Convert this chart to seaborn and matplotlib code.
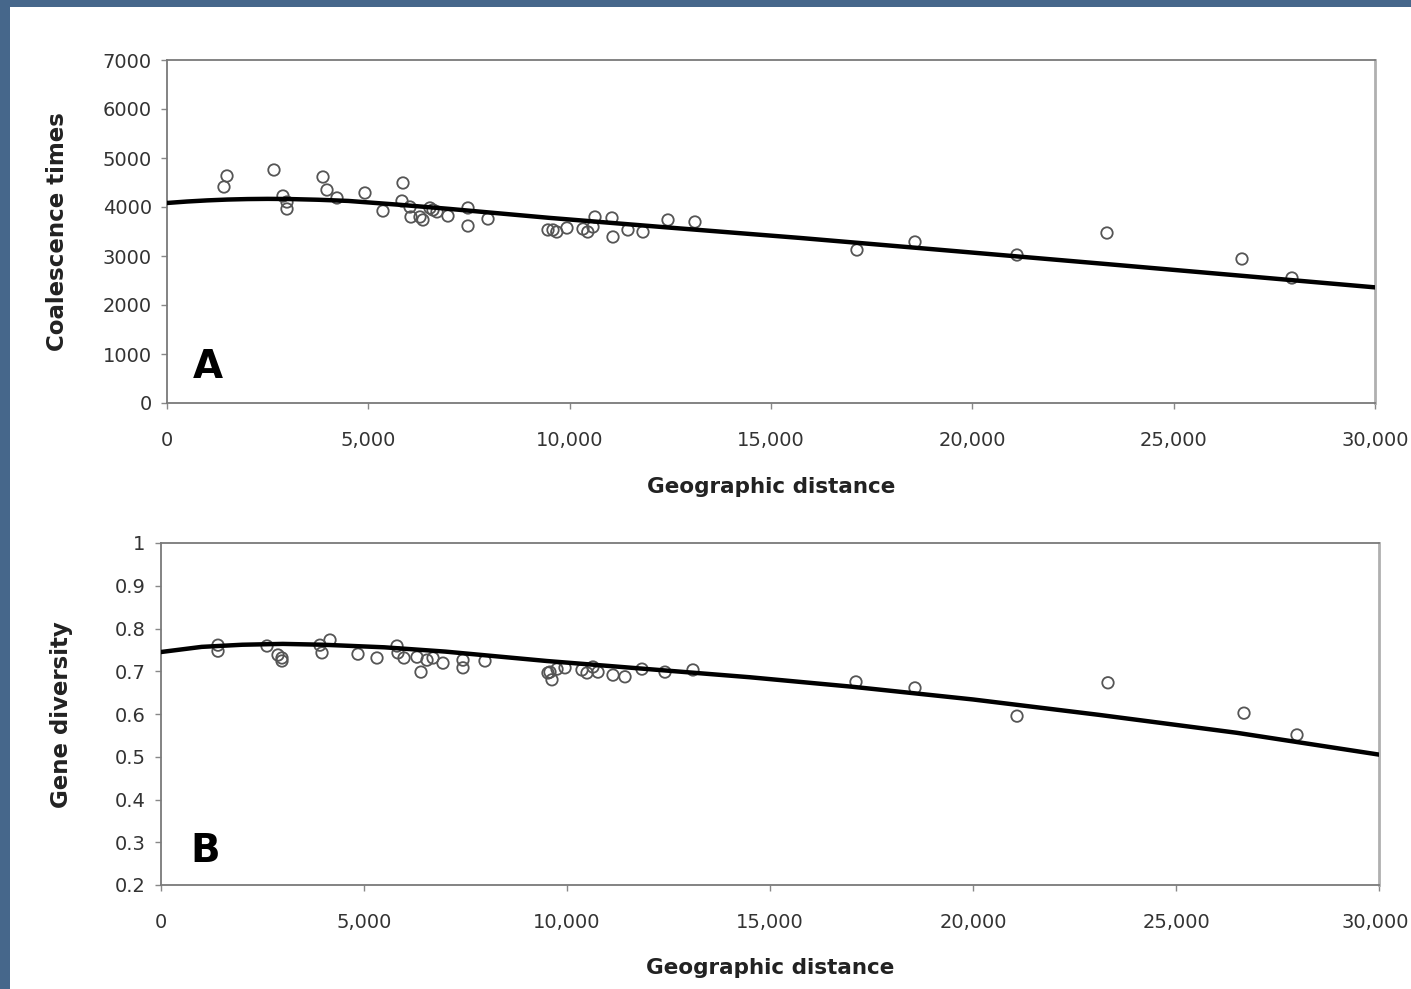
import matplotlib
matplotlib.use("Agg")
import matplotlib.pyplot as plt
from matplotlib.patches import Rectangle
from matplotlib.ticker import FuncFormatter
from matplotlib.transforms import ScaledTranslation
import seaborn as sns
import pandas as pd

# ---------------- data ----------------
# Panel A: coalescence times vs geographic distance
dist_a = [1490, 1415, 2657, 2880, 2980, 2980, 3874, 3973, 4222, 4917, 5364, 5861,
          5836, 6035, 6060, 6283, 6357, 6531, 6606, 6705, 6978, 7475, 7475, 7972,
          9462, 9586, 9680, 9933, 10331, 10450, 10579, 10629, 11051, 11076, 11448,
          11821, 12442, 13112, 17135, 18576, 21109, 23344, 26697, 27938]
coal_a = [4633, 4408, 4755, 4224, 4102, 3959, 4612, 4347, 4184, 4286, 3918, 4490,
          4122, 4000, 3796, 3796, 3735, 3980, 3939, 3900, 3816, 3980, 3612, 3755,
          3531, 3531, 3490, 3571, 3551, 3490, 3592, 3796, 3776, 3388, 3531,
          3490, 3735, 3694, 3122, 3286, 3020, 3469, 2939, 2551]

# fitted curve A
curve_x_a = [0, 500, 1000, 1500, 2000, 2500, 3000, 3750, 4500, 5750, 7000, 8250,
             9500, 12500, 15700, 19500, 23200, 26500, 30000]
curve_y_a = [4082, 4112, 4135, 4152, 4162, 4166, 4163, 4148, 4124, 4047, 3962, 3870,
             3778, 3578, 3370, 3105, 2845, 2610, 2360]

# Panel B: gene diversity vs geographic distance
dist_b = [1404, 1404, 2611, 2882, 2980, 2980, 3916, 3966, 4163, 4852, 5320, 5813,
          5837, 5985, 6305, 6404, 6552, 6700, 6946, 7438, 7438, 7980, 9532, 9581,
          9630, 9754, 9951, 10369, 10493, 10640, 10764, 11133, 11429, 11847, 12414,
          13103, 17118, 18571, 21084, 23325, 26675, 27980]
div_b = [0.761, 0.747, 0.759, 0.738, 0.724, 0.731, 0.761, 0.743, 0.773, 0.740,
         0.731, 0.759, 0.743, 0.731, 0.733, 0.698, 0.726, 0.731, 0.719, 0.726,
         0.708, 0.724, 0.696, 0.698, 0.680, 0.705, 0.708, 0.703, 0.696, 0.710,
         0.698, 0.691, 0.687, 0.705, 0.698, 0.703, 0.675, 0.661, 0.595, 0.673,
         0.602, 0.551]

curve_x_b = [0, 1000, 2000, 3000, 4000, 5500, 7000, 9500, 12000, 14500, 17000,
             20000, 23100, 26500, 30000]
curve_y_b = [0.745, 0.757, 0.762, 0.764, 0.762, 0.756, 0.746, 0.724, 0.705, 0.686,
             0.664, 0.634, 0.598, 0.556, 0.505]

x_ticks = [0, 5000, 10000, 15000, 20000, 25000, 30000]
y_ticks_a = [0, 1000, 2000, 3000, 4000, 5000, 6000, 7000]
y_ticks_b = [0.2, 0.3, 0.4, 0.5, 0.6, 0.7, 0.8, 0.9, 1.0]

x_label = "Geographic distance"
y_label_a = "Coalescence times"
y_label_b = "Gene diversity"

# ---------------- figure ----------------
sns.set_theme(style="white")
plt.rcParams["font.family"] = ["DejaVu Sans"]

fig = plt.figure(figsize=(14.11, 9.89), dpi=100)
fig.patch.set_facecolor("white")

W, H = 1411, 989
ax_a = fig.add_axes([167 / W, 1 - 403 / H, 1208 / W, 343 / H])
ax_b = fig.add_axes([161 / W, 1 - 885 / H, 1218 / W, 342 / H])

df_a = pd.DataFrame({"x": dist_a, "y": coal_a})
df_ca = pd.DataFrame({"x": curve_x_a, "y": curve_y_a})
df_b = pd.DataFrame({"x": dist_b, "y": div_b})
df_cb = pd.DataFrame({"x": curve_x_b, "y": curve_y_b})

marker_kw = dict(marker="o", s=68, facecolor="none", edgecolor="#555555",
                 linewidth=1.3, legend=False, zorder=3)

for ax, df, dfc in [(ax_a, df_a, df_ca), (ax_b, df_b, df_cb)]:
    sns.scatterplot(data=df, x="x", y="y", ax=ax, **marker_kw)
    sns.lineplot(data=dfc, x="x", y="y", ax=ax, color="black", linewidth=3.2,
                 zorder=4, legend=False)
    ax.set_xlim(0, 30000)
    ax.set_xticks(x_ticks)
    ax.xaxis.set_major_formatter(FuncFormatter(lambda v, p: f"{int(v):,}"))
    ax.tick_params(axis="both", which="major", direction="out", length=4,
                   width=1, color="#888888", labelsize=14, labelcolor="#333333",
                   bottom=True, left=True)
    ax.tick_params(axis="x", pad=16)
    ax.tick_params(axis="y", pad=7)
    for side in ["left", "bottom", "top"]:
        ax.spines[side].set_color("#7a7a7a")
        ax.spines[side].set_linewidth(1.3)
    ax.spines["right"].set_color("#b0b0b0")
    ax.spines["right"].set_linewidth(2.0)
    ax.set_xlabel(x_label, fontsize=15.5, fontweight="bold", color="#222222")
    ax.grid(False)

ax_a.set_ylim(0, 7000)
ax_a.set_yticks(y_ticks_a)
ax_a.yaxis.set_major_formatter(FuncFormatter(lambda v, p: f"{int(v)}"))
ax_a.set_ylabel(y_label_a, fontsize=16.5, fontweight="bold", color="#222222")
ax_a.xaxis.set_label_coords(0.5, -0.215)
ax_a.yaxis.set_label_coords(-0.081, 0.5)
ax_a.text(0.0215, 0.073, "A", transform=ax_a.transAxes, fontsize=28,
          fontweight="bold", va="baseline", ha="left", color="black")

ax_b.set_ylim(0.2, 1.0)
ax_b.set_yticks(y_ticks_b)
ax_b.yaxis.set_major_formatter(FuncFormatter(lambda v, p: "1" if abs(v - 1) < 1e-9 else f"{v:.1f}"))
ax_b.set_ylabel(y_label_b, fontsize=16.5, fontweight="bold", color="#222222")
ax_b.xaxis.set_label_coords(0.5, -0.212)
ax_b.yaxis.set_label_coords(-0.072, 0.497)
ax_b.text(0.024, 0.067, "B", transform=ax_b.transAxes, fontsize=28,
          fontweight="bold", va="baseline", ha="left", color="black")

# keep the right-most tick label of panel B inside the canvas
fig.canvas.draw()
last_lbl = ax_b.get_xticklabels()[-1]
last_lbl.set_transform(last_lbl.get_transform() +
                       ScaledTranslation(-4 / 100, 0, fig.dpi_scale_trans))

# blue-grey frame strips of the original slide (top and left)
border = "#46678b"
fig.add_artist(Rectangle((0, 1 - 7 / H), 1, 7 / H, transform=fig.transFigure,
                         facecolor=border, edgecolor="none", zorder=10))
fig.add_artist(Rectangle((0, 0), 10 / W, 1, transform=fig.transFigure,
                         facecolor=border, edgecolor="none", zorder=10))

fig.savefig("out.png", dpi=100, facecolor="white")
